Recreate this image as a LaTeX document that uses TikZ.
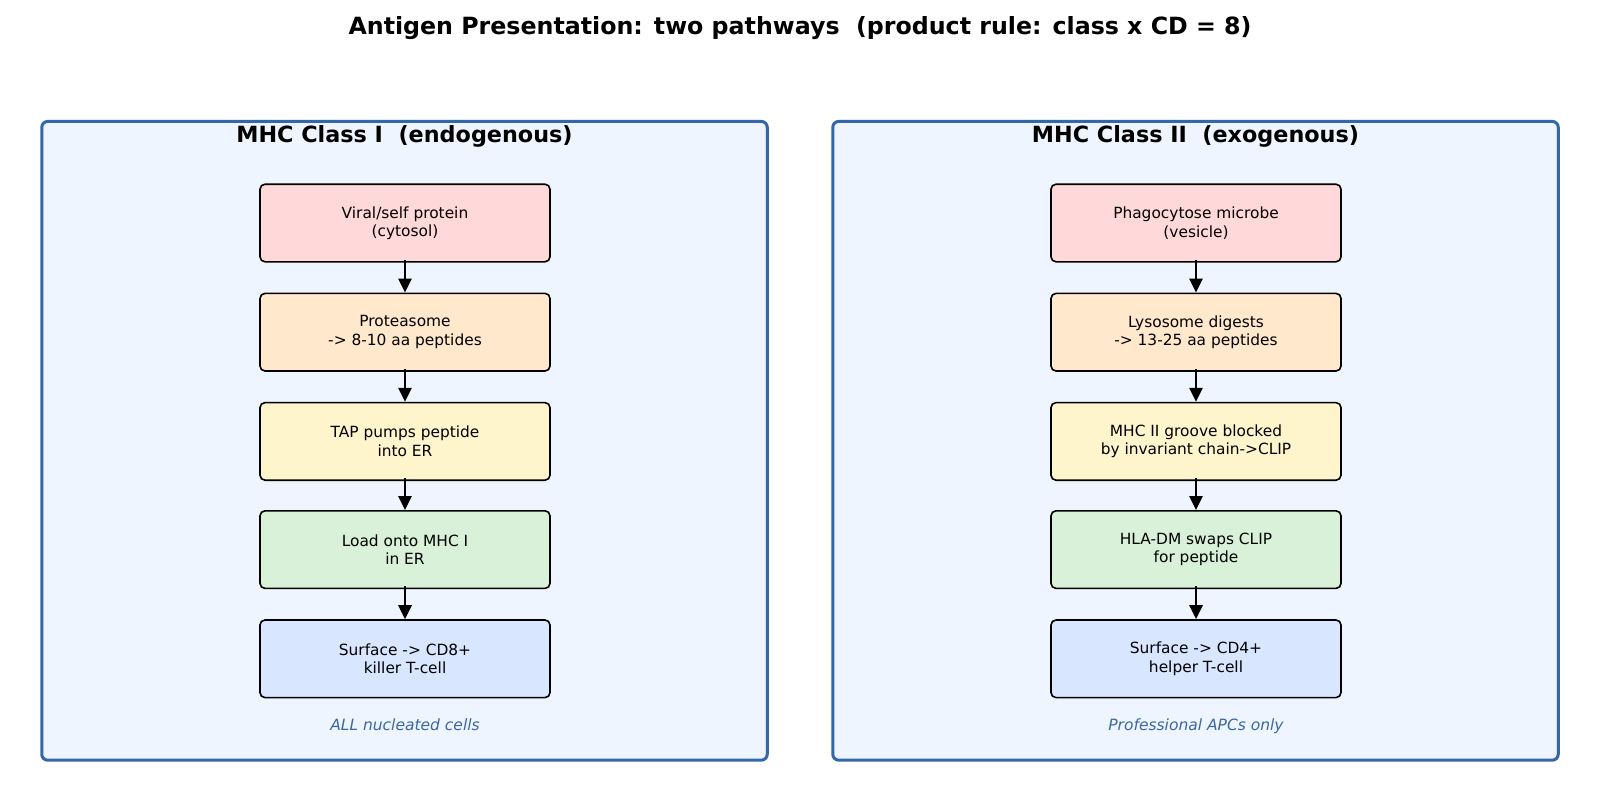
\documentclass[tikz,border=0pt]{standalone}
\usepackage{fontspec}
\setmainfont{DejaVu Sans}
\usetikzlibrary{arrows.meta}
\definecolor{panelfill}{HTML}{EEF5FF}
\definecolor{panelline}{HTML}{3565AA}
\definecolor{cpink}{HTML}{FFD9D9}
\definecolor{corange}{HTML}{FFE8CC}
\definecolor{cyellow}{HTML}{FFF5CC}
\definecolor{cgreen}{HTML}{D9F0D9}
\definecolor{cblue}{HTML}{D9E6FF}
\definecolor{notecol}{HTML}{3A68A5}
\tikzset{
  panel/.style={draw=panelline, line width=3pt, fill=panelfill, rounded corners=6pt},
  stepbox/.style={draw=black, line width=1.6pt, rounded corners=5pt, minimum width=290pt, minimum height=77.6pt, align=center, font=\fontsize{15.4}{18.5}\selectfont, inner sep=0pt},
  flow/.style={-{Triangle[length=14pt,width=13pt]}, line width=2.7pt, shorten <=-3pt},
  heading/.style={font=\fontsize{22.3}{26}\selectfont\bfseries},
  note/.style={font=\fontsize{15.5}{18}\selectfont\itshape, text=notecol, anchor=base}
}
\begin{document}
\begin{tikzpicture}[x=1pt,y=-1pt]
\useasboundingbox (0,0) rectangle (1600,800);
\node[font=\fontsize{23.7}{28}\selectfont\bfseries] (title) at (800,28.5) {Antigen Presentation: two pathways\ \ (product rule: class x CD = 8)};
% panels
\node[panel, minimum width=725.5pt, minimum height=638.8pt, inner sep=0pt] (pl) at (404.5,440.8) {};
\node[panel, minimum width=725.5pt, minimum height=638.8pt, inner sep=0pt] (pr) at (1195.5,440.8) {};
\node[heading] (hl) at (404.5,136) {MHC Class I\ \ (endogenous)};
\node[heading] (hr) at (1195.5,136) {MHC Class II\ \ (exogenous)};
% left column
\node[stepbox, fill=cpink] (l1) at (405,223) {Viral/self protein\\(cytosol)};
\node[stepbox, fill=corange] (l2) at (405,332.2) {Proteasome\\-> 8-10 aa peptides};
\node[stepbox, fill=cyellow] (l3) at (405,441.4) {TAP pumps peptide\\into ER};
\node[stepbox, fill=cgreen] (l4) at (405,549.6) {Load onto MHC I\\in ER};
\node[stepbox, fill=cblue] (l5) at (405,658.8) {Surface -> CD8+\\killer T-cell};
\node[note] (nl) at (405,730.5) {ALL nucleated cells};
% right column
\node[stepbox, fill=cpink] (r1) at (1196,223) {Phagocytose microbe\\(vesicle)};
\node[stepbox, fill=corange] (r2) at (1196,332.2) {Lysosome digests\\-> 13-25 aa peptides};
\node[stepbox, fill=cyellow] (r3) at (1196,441.4) {MHC II groove blocked\\by invariant chain->CLIP};
\node[stepbox, fill=cgreen] (r4) at (1196,549.6) {HLA-DM swaps CLIP\\for peptide};
\node[stepbox, fill=cblue] (r5) at (1196,658.8) {Surface -> CD4+\\helper T-cell};
\node[note] (nr) at (1196,730.5) {Professional APCs only};
% arrows
\foreach \a/\b in {l1/l2,l2/l3,l3/l4,l4/l5,r1/r2,r2/r3,r3/r4,r4/r5}
  \draw[flow] (\a.south) -- (\b.north);
\end{tikzpicture}
\end{document}
